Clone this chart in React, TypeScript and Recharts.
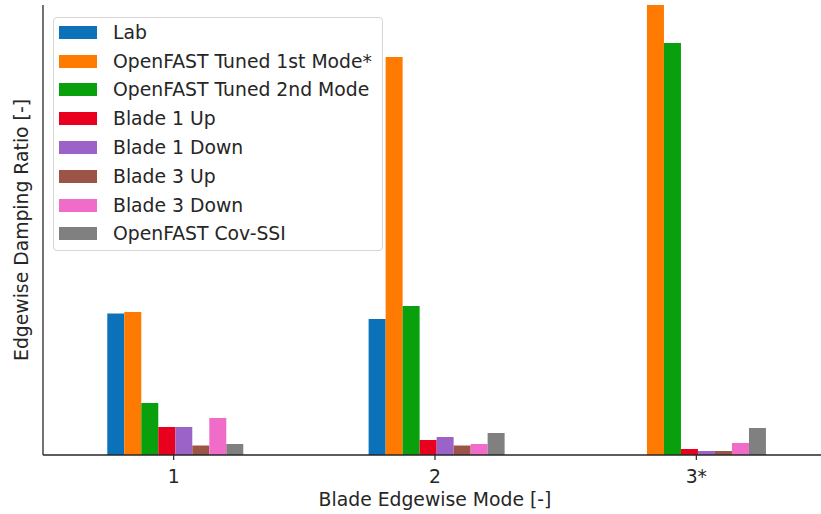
import React from 'react';
import { BarChart, Bar, XAxis, YAxis, Legend, Label } from 'recharts';

// Edgewise modes on the x axis
const modes = ['1', '2', '3*'];

// Damping ratio per mode for each source
const labValues = [0.01415, 0.0136, null];
const tuned1stValues = [0.0143, 0.0398, 0.047];
const tuned2ndValues = [0.0052, 0.0149, 0.0412];
const blade1UpValues = [0.0028, 0.0015, 0.0006];
const blade1DownValues = [0.0028, 0.0018, 0.0004];
const blade3UpValues = [0.00095, 0.00095, 0.0004];
const blade3DownValues = [0.0037, 0.0011, 0.0012];
const covSsiValues = [0.0011, 0.0022, 0.0027];

const yMax = 0.045;

const data = modes.map((mode, i) => ({
  mode,
  lab: labValues[i],
  tuned1st: tuned1stValues[i],
  tuned2nd: tuned2ndValues[i],
  b1up: blade1UpValues[i],
  b1down: blade1DownValues[i],
  b3up: blade3UpValues[i],
  b3down: blade3DownValues[i],
  covssi: covSsiValues[i],
}));

const series = [
  { key: 'lab', name: 'Lab', color: '#0b72b9' },
  { key: 'tuned1st', name: 'OpenFAST Tuned 1st Mode*', color: '#ff7a00' },
  { key: 'tuned2nd', name: 'OpenFAST Tuned 2nd Mode', color: '#08a00c' },
  { key: 'b1up', name: 'Blade 1 Up', color: '#e8001e' },
  { key: 'b1down', name: 'Blade 1 Down', color: '#9b62c8' },
  { key: 'b3up', name: 'Blade 3 Up', color: '#9c5446' },
  { key: 'b3down', name: 'Blade 3 Down', color: '#f06cc9' },
  { key: 'covssi', name: 'OpenFAST Cov-SSI', color: '#808080' },
];

const FONT = '"DejaVu Sans", sans-serif';
const INK = '#262626';
const FS = 18.8;

const LegendBox = () => (
  <div
    style={{
      width: 330,
      height: 234,
      boxSizing: 'border-box',
      border: '1px solid #d6d6d6',
      borderRadius: 4,
      background: 'rgba(255,255,255,0.85)',
      fontFamily: FONT,
      fontSize: FS,
      color: INK,
    }}
  >
    {series.map((s) => (
      <div
        key={s.key}
        style={{ height: 28.8, display: 'flex', alignItems: 'center' }}
      >
        <div
          style={{
            marginLeft: 5,
            width: 38,
            height: 13,
            flexShrink: 0,
            background: s.color,
          }}
        />
        <span style={{ marginLeft: 16, whiteSpace: 'nowrap' }}>{s.name}</span>
      </div>
    ))}
  </div>
);

export default function App() {
  return (
    <div
      style={{
        position: 'absolute',
        left: 0,
        top: 0,
        width: 821,
        height: 514,
        overflow: 'hidden',
        background: '#fff',
      }}
    >
      <BarChart
        width={827}
        height={514}
        data={data}
        margin={{ top: 5, right: 0, bottom: 0, left: 0 }}
        barCategoryGap="24.6%"
        barGap={0}
      >
        <XAxis
          dataKey="mode"
          height={59}
          axisLine={{ stroke: INK, strokeWidth: 1.3 }}
          tickLine={{ stroke: INK, strokeWidth: 1.2 }}
          tickSize={5}
          tickMargin={10}
          tick={{ fill: INK, fontSize: FS, fontFamily: FONT }}
        >
          <Label
            value="Blade Edgewise Mode [-]"
            position="insideBottom"
            offset={8}
            fill={INK}
            fontSize={FS}
            fontFamily={FONT}
          />
        </XAxis>
        <XAxis
          xAxisId="top"
          dataKey="mode"
          orientation="top"
          height={0}
          tick={false}
          tickLine={false}
          axisLine={{ stroke: INK, strokeWidth: 1.3 }}
        />
        <YAxis
          width={43}
          domain={[0, yMax]}
          allowDataOverflow
          tick={false}
          tickLine={false}
          axisLine={{ stroke: INK, strokeWidth: 1.3 }}
        >
          <Label
            value="Edgewise Damping Ratio [-]"
            position="insideLeft"
            angle={-90}
            offset={21}
            fill={INK}
            fontSize={FS}
            fontFamily={FONT}
            style={{ textAnchor: 'middle' }}
          />
        </YAxis>
        <Legend
          layout="vertical"
          align="center"
          verticalAlign="middle"
          content={<LegendBox />}
          wrapperStyle={{ left: 53, top: 17, width: 330, height: 234 }}
        />
        {series.map((s) => (
          <Bar
            key={s.key}
            dataKey={s.key}
            name={s.name}
            fill={s.color}
            isAnimationActive={false}
          />
        ))}
      </BarChart>
    </div>
  );
}
